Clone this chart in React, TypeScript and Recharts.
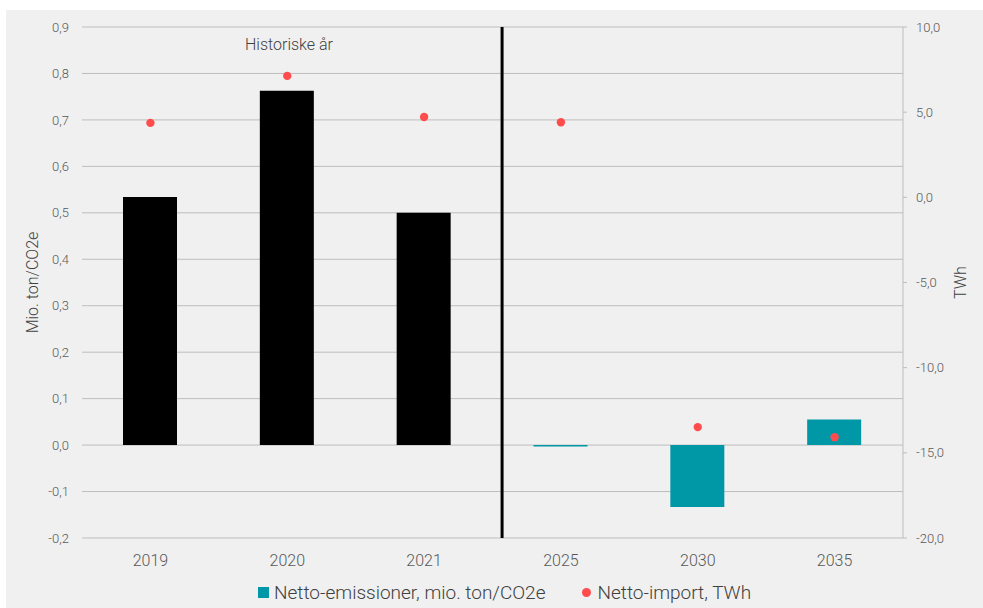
import React from 'react';
import {
  ComposedChart,
  Bar,
  Scatter,
  XAxis,
  YAxis,
  CartesianGrid,
  ReferenceLine,
  Legend,
  Cell,
  Customized,
} from 'recharts';

// Categories and series
const years = ['2019', '2020', '2021', '2025', '2030', '2035'];
const emissions = [0.534, 0.763, 0.5, -0.003, -0.133, 0.055];
const netImport = [4.37, 7.13, 4.72, 4.41, -13.49, -14.08];
const isHistorical = [true, true, true, false, false, false];

// Axis ticks
const slotTicks = [0, 1, 2, 3, 4, 5];
const leftTicks = [-0.2, -0.1, 0, 0.1, 0.2, 0.3, 0.4, 0.5, 0.6, 0.7, 0.8, 0.9];
const rightTicks = [-20, -15, -10, -5, 0, 5, 10];

// Divider between historical years and projections (in category slots)
const dividerSlot = 2.57;

const TEAL = '#0097a7';
const RED = '#ff4d4d';
const FONT = 'Roboto, "Noto Sans", sans-serif';

const data = years.map((year, i) => ({
  slot: i,
  year,
  emissions: emissions[i],
  netImport: netImport[i],
}));

const fmt = (v: number) => v.toFixed(1).replace('.', ',');
const yearLabel = (v: number) => years[Math.round(v)] ?? '';

const LeftTitle = (props: any) => {
  const vb = props.viewBox || {};
  const x = vb.x + 26;
  const y = vb.y + vb.height / 2;
  return (
    <text
      x={x}
      y={y}
      transform={`rotate(-90, ${x}, ${y})`}
      textAnchor="middle"
      dominantBaseline="central"
      fill="#404040"
      fontSize={16}
      fontWeight={300}
      fontFamily={FONT}
    >
      Mio. ton/CO2e
    </text>
  );
};

const RightTitle = (props: any) => {
  const vb = props.viewBox || {};
  const x = vb.x + 57;
  const y = vb.y + vb.height / 2;
  return (
    <text
      x={x}
      y={y}
      transform={`rotate(-90, ${x}, ${y})`}
      textAnchor="middle"
      dominantBaseline="central"
      fill="#404040"
      fontSize={16}
      fontWeight={300}
      fontFamily={FONT}
    >
      TWh
    </text>
  );
};

const LegendContent = () => (
  <div
    style={{
      display: 'flex',
      alignItems: 'center',
      height: 30,
      paddingLeft: 252,
      paddingBottom: 2,
      boxSizing: 'border-box',
      fontFamily: FONT,
      fontWeight: 300,
      fontSize: 19,
      color: '#404040',
      whiteSpace: 'nowrap',
    }}
  >
    <span style={{ width: 11, height: 11, background: TEAL, display: 'inline-block', marginRight: 5 }} />
    <span>Netto-emissioner, mio. ton/CO2e</span>
    <span
      style={{
        width: 9,
        height: 9,
        borderRadius: 5,
        background: RED,
        display: 'inline-block',
        marginLeft: 37,
        marginRight: 6,
      }}
    />
    <span>Netto-import, TWh</span>
  </div>
);

const Dot = (props: any) => <circle cx={props.cx} cy={props.cy} r={4.2} fill={RED} />;

export default function App() {
  return (
    <div style={{ position: 'absolute', left: 0, top: 0, width: 983, height: 608, background: '#ffffff' }}>
      <div style={{ position: 'absolute', left: 6, top: 10, width: 977, height: 598, background: '#f0f0f0' }}>
        <ComposedChart
          width={977}
          height={598}
          data={data}
          margin={{ top: 17, right: 0, bottom: 0, left: 0 }}
        >
          <CartesianGrid yAxisId="left" vertical={false} stroke="#bdbdbd" strokeWidth={1} />
          <XAxis
            dataKey="slot"
            type="number"
            domain={[-0.5, 5.5]}
            ticks={slotTicks}
            interval={0}
            tickFormatter={yearLabel}
            allowDataOverflow
            axisLine={false}
            tickLine={false}
            tickSize={0}
            tickMargin={17}
            height={40}
            tick={{ fill: '#595959', fontSize: 16, fontWeight: 300, fontFamily: FONT }}
          />
          <YAxis
            yAxisId="left"
            width={76}
            domain={[-0.2, 0.9]}
            ticks={leftTicks}
            interval={0}
            tickFormatter={fmt}
            axisLine={false}
            tickLine={false}
            tickSize={0}
            tickMargin={13}
            allowDataOverflow
            tick={{ fill: '#595959', fontSize: 13, fontWeight: 300, fontFamily: FONT }}
            label={<LeftTitle />}
          />
          <YAxis
            yAxisId="right"
            orientation="right"
            width={80}
            domain={[-20, 10]}
            ticks={rightTicks}
            interval={0}
            tickFormatter={fmt}
            axisLine={{ stroke: '#bdbdbd' }}
            tickLine={{ stroke: '#bdbdbd' }}
            tickSize={4}
            tickMargin={9}
            allowDataOverflow
            tick={{ fill: '#595959', fontSize: 13, fontWeight: 300, fontFamily: FONT }}
            label={<RightTitle />}
          />
          <Bar
            yAxisId="left"
            dataKey="emissions"
            name="Netto-emissioner, mio. ton/CO2e"
            fill={TEAL}
            barSize={54}
            isAnimationActive={false}
          >
            {data.map((d, i) => (
              <Cell key={d.year} fill={isHistorical[i] ? '#000000' : TEAL} />
            ))}
          </Bar>
          <Scatter
            yAxisId="right"
            dataKey="netImport"
            name="Netto-import, TWh"
            fill={RED}
            shape={Dot}
            isAnimationActive={false}
          />
          <ReferenceLine
            yAxisId="left"
            x={dividerSlot}
            stroke="#000000"
            strokeWidth={3}
            ifOverflow="visible"
          />
          <Customized
            component={
              <text
                x={239}
                y={34}
                fill="#404040"
                fontSize={16}
                fontWeight={300}
                fontFamily={FONT}
                dominantBaseline="central"
              >
                Historiske år
              </text>
            }
          />
          <Legend verticalAlign="bottom" height={30} content={<LegendContent />} />
        </ComposedChart>
      </div>
    </div>
  );
}
